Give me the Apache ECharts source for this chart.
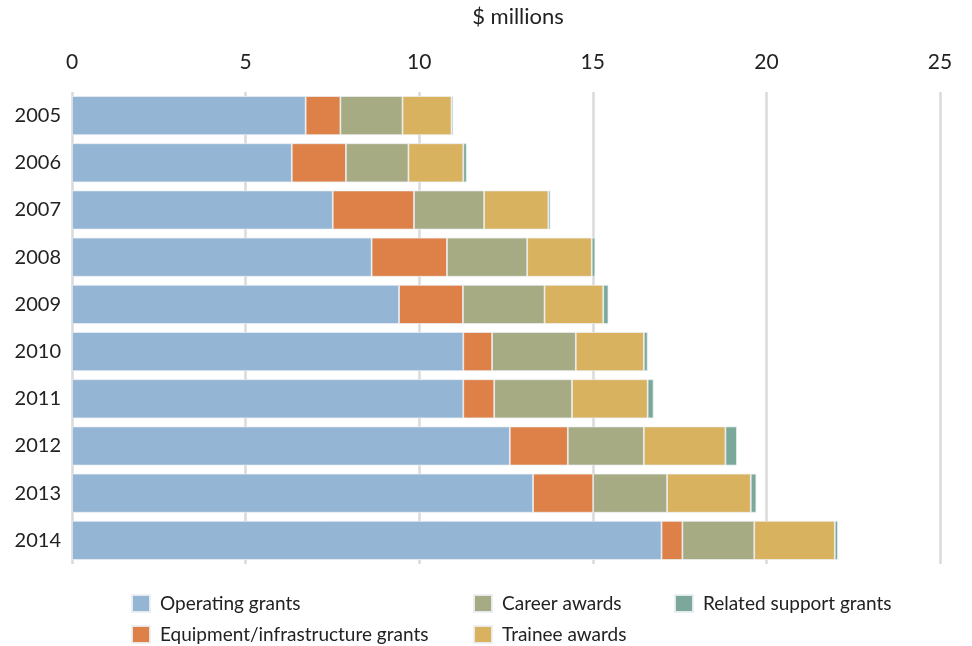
<!DOCTYPE html>
<html>
<head>
<meta charset="utf-8">
<script src="https://cdn.jsdelivr.net/npm/echarts@6/dist/echarts.min.js"></script>
<style>
html,body{margin:0;padding:0;background:#fff;}
#chart{width:972px;height:646px;}
</style>
</head>
<body>
<div id="chart"></div>
<script>
const years = ['2005','2006','2007','2008','2009','2010','2011','2012','2013','2014'];
const operatingGrants = [6.73, 6.33, 7.51, 8.63, 9.42, 11.27, 11.27, 12.61, 13.28, 16.98];
const equipmentGrants = [1.00, 1.56, 2.34, 2.17, 1.84, 0.83, 0.89, 1.67, 1.73, 0.60];
const careerAwards    = [1.79, 1.80, 2.02, 2.31, 2.35, 2.41, 2.24, 2.19, 2.13, 2.07];
const traineeAwards   = [1.41, 1.58, 1.85, 1.86, 1.69, 1.96, 2.18, 2.35, 2.41, 2.32];
const relatedSupport  = [0.05, 0.10, 0.06, 0.10, 0.15, 0.11, 0.17, 0.33, 0.16, 0.09];
const xTicks = [0, 5, 10, 15, 20, 25];

const names = ['Operating grants','Equipment/infrastructure grants','Career awards','Trainee awards','Related support grants'];
const colors = ['#94B5D3','#DE8148','#A6AB83','#D8B25E','#7CA89C'];
const values = [operatingGrants, equipmentGrants, careerAwards, traineeAwards, relatedSupport];
const FONT = 'Lato, "Open Sans", sans-serif';

const chart = echarts.init(document.getElementById('chart'));
const legendBase = {
  orient: 'vertical', icon: 'rect', itemWidth: 18, itemHeight: 17, itemGap: 12,
  padding: 0,
  textStyle: {fontFamily: FONT, fontSize: 19, lineHeight: 17, color: '#222', padding: [0,0,0,5]},
  selectedMode: false, top: 594, height: 60
};
chart.setOption({
  animation: false,
  color: colors,
  grid: {left: 72, right: 32, top: 92, bottom: 82, containLabel: false, outerBoundsMode: 'none'},
  xAxis: {
    type: 'value', position: 'top', min: 0, max: 25, interval: 5,
    name: '$ millions', nameLocation: 'middle', nameGap: 64,
    nameTextStyle: {fontFamily: FONT, fontSize: 22, color: '#222', padding: [0,0,0,24]},
    axisLine: {show: false}, axisTick: {show: false},
    axisLabel: {fontFamily: FONT, fontSize: 21, color: '#222', margin: 19,
      formatter: v => xTicks.includes(v) ? String(v) : ''},
    splitLine: {show: true, lineStyle: {color: '#dadada', width: 2.5}}
  },
  yAxis: {
    type: 'category', data: years, inverse: true,
    axisLine: {show: false}, axisTick: {show: false},
    axisLabel: {fontFamily: FONT, fontSize: 20, color: '#222', margin: 11}
  },
  legend: [
    Object.assign({}, legendBase, {left: 131, data: [names[0], names[1]]}),
    Object.assign({}, legendBase, {left: 473, data: [names[2], names[3]]}),
    Object.assign({}, legendBase, {left: 674, data: [names[4]]})
  ],
  series: names.map((n, i) => ({
    name: n, type: 'bar', stack: 'total', data: values[i],
    barWidth: 39,
    itemStyle: {color: colors[i], borderColor: 'rgba(235,240,244,0.9)', borderWidth: 0.8}
  }))
});
</script>
</body>
</html>
